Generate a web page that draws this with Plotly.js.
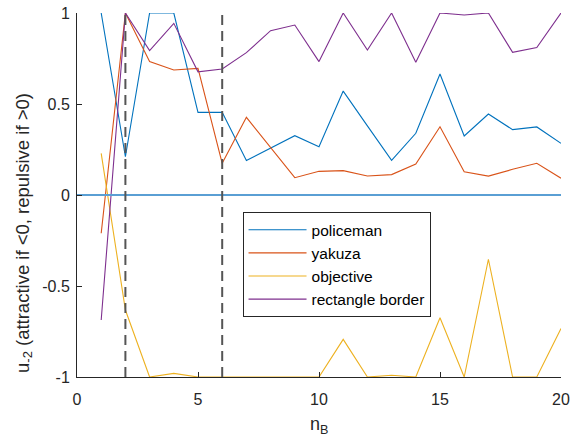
<!DOCTYPE html>
<html>
<head>
<meta charset="utf-8">
<script src="https://cdn.plot.ly/plotly-3.0.1.min.js"></script>
<style>html,body{margin:0;padding:0;background:#fff;}#chart{width:577px;height:439px;}</style>
</head>
<body>
<div id="chart"></div>
<script>
const nB = [1,2,3,4,5,6,7,8,9,10,11,12,13,14,15,16,17,18,19,20];
const policeman = [1.0,0.21,1.0,1.0,0.454,0.454,0.19,0.26,0.326,0.265,0.571,0.38,0.19,0.339,0.665,0.324,0.445,0.359,0.374,0.284];
const yakuza = [-0.21,1.0,0.733,0.687,0.696,0.174,0.427,0.26,0.095,0.13,0.134,0.104,0.112,0.17,0.375,0.128,0.104,0.141,0.174,0.092];
const objective = [0.229,-0.632,-1.0,-0.98,-1.0,-1.0,-1.0,-1.0,-1.0,-1.0,-0.793,-1.0,-0.99,-1.0,-0.674,-1.0,-0.353,-1.0,-1.0,-0.733];
const rectangleBorder = [-0.687,1.0,0.793,0.943,0.677,0.692,0.782,0.903,0.934,0.733,1.0,0.797,1.0,0.729,1.0,0.989,1.0,0.784,0.81,1.0];
const seriesNames = ['policeman','yakuza','objective','rectangle border'];
const seriesColors = ['#0072BD','#D95319','#EDB120','#7E2F8E'];
const zeroLineX = [0, 20];
const zeroLineY = [0, 0];
const markerX = [2, 6];
const markerYRange = [-1, 1];
const xTicks = [0,5,10,15,20];
const yTicks = [-1,-0.5,0,0.5,1];
const yTickText = ['-1','-0.5','0','0.5','1'];
const xTitle = 'n<sub>B</sub>';
const yTitle = 'u<sub>-2</sub> (attractive if &lt;0, repulsive if &gt;0)';

const seriesData = [policeman, yakuza, objective, rectangleBorder];
const traces = seriesData.map((ys, i) => ({
  x: nB, y: ys, type: 'scatter', mode: 'lines', name: seriesNames[i],
  line: {color: seriesColors[i], width: 1.1}
}));
traces.push({x: zeroLineX, y: zeroLineY, type: 'scatter', mode: 'lines', showlegend: false,
  line: {color: '#5a9fd4', width: 2}, hoverinfo: 'skip'});
markerX.forEach(mx => traces.push({x: [mx, mx], y: markerYRange, type: 'scatter', mode: 'lines', showlegend: false,
  line: {color: '#555555', width: 2, dash: '10px,6px'}, hoverinfo: 'skip'}));

const fam = 'Liberation Sans, Arial, sans-serif';
const layout = {
  width: 577, height: 439,
  margin: {l: 77, r: 16, t: 13, b: 62},
  paper_bgcolor: '#ffffff', plot_bgcolor: '#ffffff',
  font: {family: fam, color: '#262626', size: 15},
  showlegend: true,
  legend: {x: 0.342, y: 0.453, xanchor: 'left', yanchor: 'top',
    bgcolor: '#ffffff', bordercolor: '#262626', borderwidth: 1,
    font: {family: fam, size: 15.5, color: '#000000'},
    itemwidth: 58, tracegroupgap: 0},
  xaxis: {range: [0, 20], tickvals: xTicks, ticktext: xTicks.map(String),
    ticks: 'inside', ticklen: 5, tickcolor: '#262626', showline: true, linecolor: '#262626', linewidth: 1,
    showgrid: false, zeroline: false, mirror: false, ticklabelstandoff: 8,
    tickfont: {family: fam, size: 16, color: '#262626'}},
  yaxis: {range: [-1, 1], tickvals: yTicks, ticktext: yTickText,
    ticks: 'inside', ticklen: 5, tickcolor: '#262626', showline: true, linecolor: '#262626', linewidth: 1,
    showgrid: false, zeroline: false, mirror: false, ticklabelstandoff: 3,
    tickfont: {family: fam, size: 16, color: '#262626'}},
  annotations: [
    {text: xTitle, xref: 'paper', yref: 'paper', x: 0.5, y: -0.095, xanchor: 'center', yanchor: 'top',
      showarrow: false, font: {family: fam, size: 18, color: '#262626'}},
    {text: yTitle, xref: 'paper', yref: 'paper', x: -0.11, y: 0.395, xanchor: 'center', yanchor: 'middle',
      textangle: -90, showarrow: false, font: {family: fam, size: 18.5, color: '#262626'}}
  ]
};
Plotly.newPlot('chart', traces, layout, {displayModeBar: false, staticPlot: true});
</script>
</body>
</html>
